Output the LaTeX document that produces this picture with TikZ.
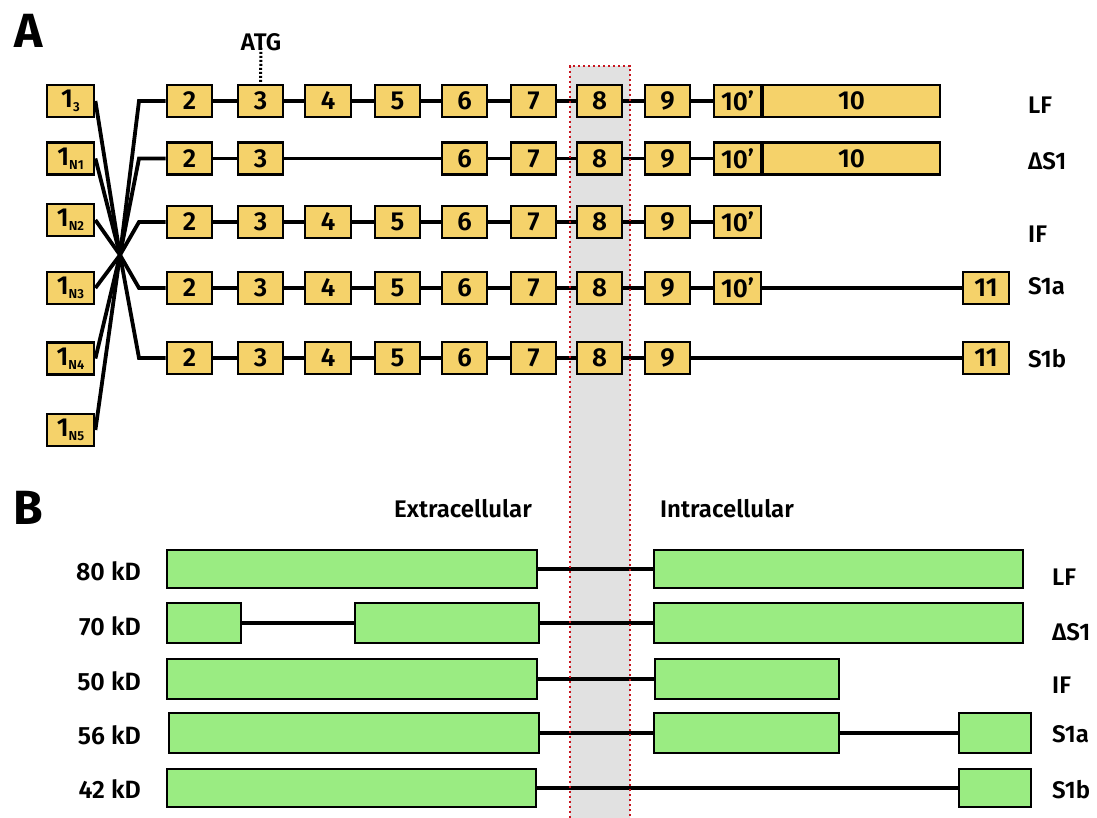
\documentclass[tikz,border=0pt]{standalone}
\usepackage{fontspec}
\setmainfont{Fira Sans SemiBold}
\newfontfamily\panelfont{Fira Sans Bold}
\definecolor{exonyellow}{HTML}{F5D26A}
\definecolor{domgreen}{HTML}{9AEC82}
\definecolor{bandgrey}{HTML}{E1E1E1}
\definecolor{tmred}{HTML}{C8141E}
\pgfdeclarelayer{band}
\pgfdeclarelayer{lines}
\pgfsetlayers{band,lines,main}
% exon box: name, left x, right x, centre y, label
\newcommand\exonbox[5]{\node[exon,minimum width={(#3-#2-2)*1pt}] (#1) at ({(#2+#3)/2},#4) {#5};}
% protein domain: name, left x, right x, top y, bottom y
\newcommand\dombox[5]{\node[dom,minimum width={(#3-#2-2)*1pt},minimum height={(#5-#4-2)*1pt}] (#1) at ({(#2+#3)/2},{(#4+#5)/2}) {};}
\newcommand\firstex[1]{1\raisebox{-4pt}{\fontsize{13}{13}\selectfont #1}}
\begin{document}
\begin{tikzpicture}[x=1pt,y=-1pt,
  exon/.style={draw=black,line width=2.8pt,fill=exonyellow,inner sep=0pt,
    minimum height=32pt,font=\fontsize{26}{26}\selectfont},
  dom/.style={draw=black,line width=2.8pt,fill=domgreen,inner sep=0pt},
  link/.style={line width=3.8pt,line join=miter},
  blink/.style={line width=3.2pt},
  lbl/.style={inner sep=0pt,font=\fontsize{24}{24}\selectfont},
  kd/.style={inner sep=0pt,anchor=east,font=\fontsize{25}{25}\selectfont},
  panel/.style={inner sep=0pt,font=\panelfont\fontsize{48}{48}\selectfont},
  reddots/.style={tmred,line width=2.4pt,dash pattern=on 2.4pt off 2.6pt},
  atgdots/.style={black,line width=3pt,dash pattern=on 2pt off 2pt}]
\useasboundingbox (0,0) rectangle (1097,818);

% transmembrane band
\begin{pgfonlayer}{band}
\fill[bandgrey] (570,66) rectangle (630,818);
\end{pgfonlayer}

% panel letters and headings
\node[panel] (pA) at (29,31) {A};
\node[panel] (pB) at (28,508) {B};
\node[lbl] (extra) at (463,509) {Extracellular};
\node[lbl] (intra) at (727,509) {Intracellular};

% ---------- A: exon structure ----------
% alternative first exons
\exonbox{f1}{46}{95}{101}{\firstex{3}}
\exonbox{f2}{46}{95}{158.5}{\firstex{N1}}
\exonbox{f3}{46}{95}{220}{\firstex{N2}}
\exonbox{f4}{46}{95}{288}{\firstex{N3}}
\exonbox{f5}{46}{95}{358.5}{\firstex{N4}}
\exonbox{f6}{46}{95}{430}{\firstex{N5}}
\coordinate (X) at (120,255);
\foreach \r/\y in {1/101,2/158.5,3/222,4/288,5/358}{
  \coordinate (b\r) at (139,\y);
}

% LF
\exonbox{a1e2}{166}{213}{101}{2}
\exonbox{a1e3}{237}{284}{101}{3}
\exonbox{a1e4}{304}{352}{101}{4}
\exonbox{a1e5}{374}{421}{101}{5}
\exonbox{a1e6}{441}{488}{101}{6}
\exonbox{a1e7}{510}{557}{101}{7}
\exonbox{a1e8}{576}{623}{101}{8}
\exonbox{a1e9}{644}{691}{101}{9}
\exonbox{a1e10p}{713}{762}{101}{10’}
\exonbox{a1e10}{762}{941}{101}{10}
% Delta S1
\exonbox{a2e2}{166}{213}{158.5}{2}
\exonbox{a2e3}{237}{284}{158.5}{3}
\exonbox{a2e6}{441}{488}{158.5}{6}
\exonbox{a2e7}{510}{557}{158.5}{7}
\exonbox{a2e8}{576}{623}{158.5}{8}
\exonbox{a2e9}{644}{691}{158.5}{9}
\exonbox{a2e10p}{713}{762}{158.5}{10’}
\exonbox{a2e10}{762}{941}{158.5}{10}
% IF
\exonbox{a3e2}{166}{213}{222}{2}
\exonbox{a3e3}{237}{284}{222}{3}
\exonbox{a3e4}{304}{352}{222}{4}
\exonbox{a3e5}{374}{421}{222}{5}
\exonbox{a3e6}{441}{488}{222}{6}
\exonbox{a3e7}{510}{557}{222}{7}
\exonbox{a3e8}{576}{623}{222}{8}
\exonbox{a3e9}{644}{691}{222}{9}
\exonbox{a3e10p}{713}{762}{222}{10’}
% S1a
\exonbox{a4e2}{166}{213}{288}{2}
\exonbox{a4e3}{237}{284}{288}{3}
\exonbox{a4e4}{304}{352}{288}{4}
\exonbox{a4e5}{374}{421}{288}{5}
\exonbox{a4e6}{441}{488}{288}{6}
\exonbox{a4e7}{510}{557}{288}{7}
\exonbox{a4e8}{576}{623}{288}{8}
\exonbox{a4e9}{644}{691}{288}{9}
\exonbox{a4e10p}{713}{762}{288}{10’}
\exonbox{a4e11}{962}{1010}{288}{11}
% S1b
\exonbox{a5e2}{166}{213}{358}{2}
\exonbox{a5e3}{237}{284}{358}{3}
\exonbox{a5e4}{304}{352}{358}{4}
\exonbox{a5e5}{374}{421}{358}{5}
\exonbox{a5e6}{441}{488}{358}{6}
\exonbox{a5e7}{510}{557}{358}{7}
\exonbox{a5e8}{576}{623}{358}{8}
\exonbox{a5e9}{644}{691}{358}{9}
\exonbox{a5e11}{962}{1010}{358}{11}

% splicing lines, drawn beneath the boxes
\begin{pgfonlayer}{lines}
\foreach \f in {f1,f2,f3,f4,f5,f6}{
  \draw[link] (\f.east) -- (X);
}
\foreach \r in {1,...,5}{
  \draw[link] (X) -- (b\r) -- (a\r e2);
}
\draw[link] (a1e2) -- (a1e3) -- (a1e4) -- (a1e5) -- (a1e6) -- (a1e7) -- (a1e8) -- (a1e9) -- (a1e10p);
\draw[link] (a2e2) -- (a2e3) -- (a2e6) -- (a2e7) -- (a2e8) -- (a2e9) -- (a2e10p);
\draw[link] (a3e2) -- (a3e3) -- (a3e4) -- (a3e5) -- (a3e6) -- (a3e7) -- (a3e8) -- (a3e9) -- (a3e10p);
\draw[link] (a4e2) -- (a4e3) -- (a4e4) -- (a4e5) -- (a4e6) -- (a4e7) -- (a4e8) -- (a4e9) -- (a4e10p) -- (a4e11);
\draw[link] (a5e2) -- (a5e3) -- (a5e4) -- (a5e5) -- (a5e6) -- (a5e7) -- (a5e8) -- (a5e9) -- (a5e11);
\end{pgfonlayer}

% start codon
\node[inner sep=0pt,font=\fontsize{24}{24}\selectfont] (atg) at (261,42) {ATG};
\draw[atgdots] ([yshift=3pt]atg.south) -- (a1e3.north);

% isoform labels, panel A
\node[lbl,anchor=west] (lA1) at (1028,105) {LF};
\node[lbl,anchor=west] (lA2) at (1028,161) {ΔS1};
\node[lbl,anchor=west] (lA3) at (1028,234) {IF};
\node[lbl,anchor=west] (lA4) at (1028,286) {S1a};
\node[lbl,anchor=west] (lA5) at (1028,359) {S1b};

% ---------- B: protein domains ----------
\dombox{p1a}{166}{538}{549}{589}
\dombox{p1b}{653}{1024}{549}{589}
\dombox{p2a}{166}{242}{602}{644}
\dombox{p2b}{354}{540}{602}{644}
\dombox{p2c}{653}{1024}{602}{644}
\dombox{p3a}{166}{538}{658}{700}
\dombox{p3b}{654}{840}{658}{700}
\dombox{p4a}{168}{540}{712}{754}
\dombox{p4b}{653}{840}{712}{754}
\dombox{p4c}{958}{1032}{712}{754}
\dombox{p5a}{166}{537}{768}{808}
\dombox{p5b}{958}{1032}{768}{808}

\begin{pgfonlayer}{lines}
\draw[blink] (p1a) -- (p1b);
\draw[blink] (p2a) -- (p2b) -- (p2c);
\draw[blink] (p3a) -- (p3b);
\draw[blink] (p4a) -- (p4b) -- (p4c);
\draw[blink] (p5a) -- (p5b);
\end{pgfonlayer}

\node[kd] (k1) at (141,571) {80 kD};
\node[kd] (k2) at (141,626) {70 kD};
\node[kd] (k3) at (141,681) {50 kD};
\node[kd] (k4) at (141,735) {56 kD};
\node[kd] (k5) at (141,789) {42 kD};

\node[lbl,anchor=west] (lB1) at (1052,577) {LF};
\node[lbl,anchor=west] (lB2) at (1052,632) {ΔS1};
\node[lbl,anchor=west] (lB3) at (1052,685) {IF};
\node[lbl,anchor=west] (lB4) at (1052,734) {S1a};
\node[lbl,anchor=west] (lB5) at (1052,790) {S1b};

% membrane border
\draw[reddots] (570,818) -- (570,66) -- (630,66) -- (630,818);
\end{tikzpicture}
\end{document}
